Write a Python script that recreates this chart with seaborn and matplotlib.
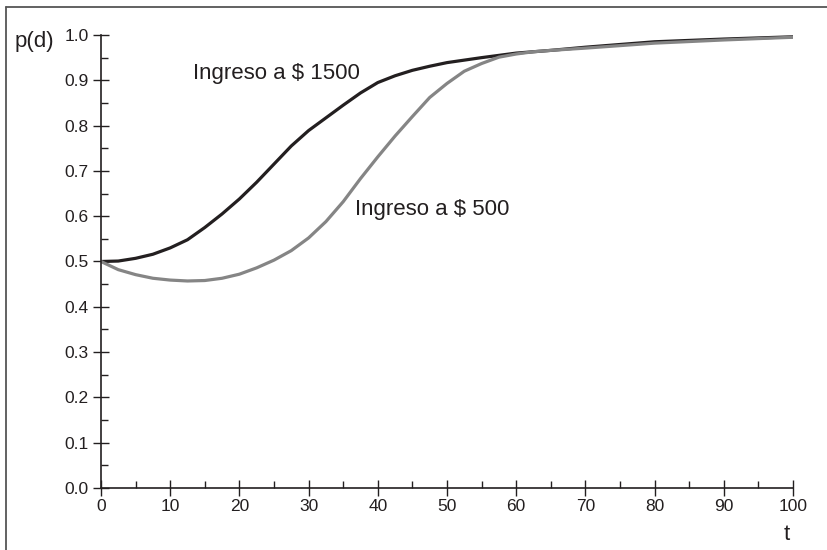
import pandas as pd
import seaborn as sns
import matplotlib.pyplot as plt
from matplotlib.lines import Line2D
from matplotlib.ticker import MultipleLocator

t_1500 = [0, 2.5, 5, 7.5, 10, 12.5, 15, 17.5, 20, 22.5, 25, 27.5, 30, 32.5, 35,
          37.5, 40, 42.5, 45, 47.5, 50, 55, 60, 65, 70, 80, 90, 100]
p_1500 = [0.500, 0.501, 0.507, 0.516, 0.530, 0.548, 0.575, 0.605, 0.638, 0.675,
          0.715, 0.755, 0.789, 0.817, 0.845, 0.872, 0.895, 0.910, 0.922, 0.931,
          0.939, 0.950, 0.960, 0.966, 0.973, 0.985, 0.991, 0.996]

t_500 = [0, 2.5, 5, 7.5, 10, 12.5, 15, 17.5, 20, 22.5, 25, 27.5, 30, 32.5, 35,
         37.5, 40, 42.5, 45, 47.5, 50, 52.5, 55, 57.5, 60, 62.5, 65, 70, 80, 90, 100]
p_500 = [0.500, 0.482, 0.471, 0.463, 0.459, 0.457, 0.458, 0.463, 0.472, 0.486,
         0.503, 0.524, 0.552, 0.588, 0.632, 0.683, 0.731, 0.777, 0.820, 0.862,
         0.893, 0.920, 0.937, 0.951, 0.958, 0.963, 0.966, 0.971, 0.982, 0.989, 0.995]

df = pd.concat([
    pd.DataFrame({"t": t_1500, "p": p_1500, "serie": "1500"}),
    pd.DataFrame({"t": t_500, "p": p_500, "serie": "500"}),
])

sns.set_style("ticks")
plt.rcParams["font.family"] = ["Liberation Sans", "DejaVu Sans"]

fig = plt.figure(figsize=(8.27, 5.5), dpi=100)
ax = fig.add_axes([0.1221, 0.1127, 0.8368, 0.8237])

sns.lineplot(data=df, x="t", y="p", hue="serie",
             palette={"1500": "#231f20", "500": "#858585"},
             linewidth=2.3, legend=False, ax=ax)

ax.set_xlim(0, 100)
ax.set_ylim(0, 1.0)
ax.xaxis.set_major_locator(MultipleLocator(10))
ax.xaxis.set_minor_locator(MultipleLocator(5))
ax.yaxis.set_major_locator(MultipleLocator(0.1))
ax.yaxis.set_minor_locator(MultipleLocator(0.05))
ax.yaxis.set_major_formatter(lambda v, pos: f"{v:.1f}")
ax.tick_params(which="major", direction="inout", length=12, width=1,
               labelsize=12.5, color="#231f20", labelcolor="#231f20")
ax.tick_params(axis="y", which="major", pad=3)
ax.tick_params(axis="x", which="major", pad=2)
ax.tick_params(which="minor", direction="in", length=5, width=1, color="#231f20")
ax.set_xlabel("")
ax.set_ylabel("")
sns.despine(ax=ax)
for s in ["left", "bottom"]:
    ax.spines[s].set_color("#231f20")
    ax.spines[s].set_linewidth(1.2)

ax.text(13.3, 0.916, "Ingreso a $ 1500", fontsize=16, color="#231f20", va="center")
ax.text(36.7, 0.614, "Ingreso a $ 500", fontsize=16, color="#231f20", va="center")

fig.text(15 / 827, 1 - 42 / 550, "p(d)", fontsize=16, color="#231f20", va="center")
fig.text(787 / 827, 1 - 535 / 550, "t", fontsize=16, color="#231f20",
         va="center", ha="center")

# border lines of the cropped frame
fig.add_artist(Line2D([6 / 827, 6 / 827], [0, 1 - 7 / 550],
                      transform=fig.transFigure, color="#555555", lw=1.3))
fig.add_artist(Line2D([6 / 827, 1], [1 - 7 / 550, 1 - 7 / 550],
                      transform=fig.transFigure, color="#555555", lw=1.3))

fig.savefig("out.png", dpi=100)
